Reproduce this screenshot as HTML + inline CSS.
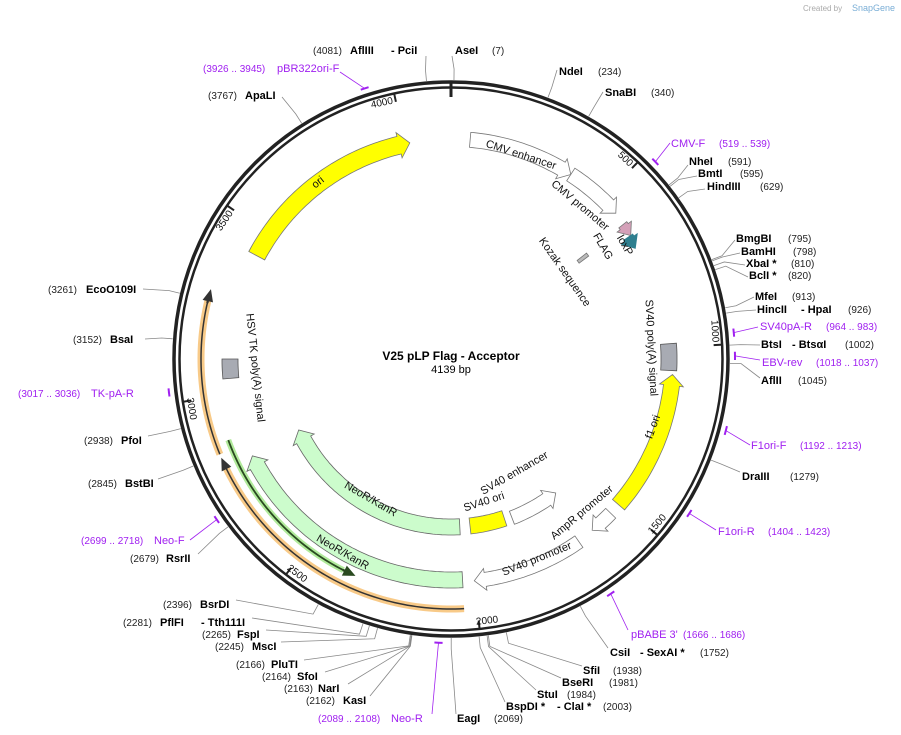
<!DOCTYPE html>
<html><head><meta charset="utf-8">
<style>
body{margin:0;background:#fff;}
svg{display:block;font-family:"Liberation Sans","DejaVu Sans",sans-serif;}
.e{font-size:11px;font-weight:bold;fill:#000;}
.n{font-size:10px;fill:#222;}
.p{font-size:11px;fill:#a020f0;}
.pn{font-size:10px;fill:#a020f0;}
.f{font-size:11px;fill:#111;}
.t{font-size:10px;fill:#111;}
</style></head>
<body>
<svg id="s" width="901" height="735" viewBox="0 0 901 735" xmlns="http://www.w3.org/2000/svg">
<g id="shapes"></g>
<text x="803" y="11" style="font-size:8px;fill:#aaa">Created by</text><text x="852" y="11" style="font-size:9px;fill:#7aaed6">SnapGene</text>
<text x="451" y="360" text-anchor="middle" style="font-size:12px;font-weight:bold">V25 pLP Flag - Acceptor</text>
<text x="451" y="373" text-anchor="middle" style="font-size:11px">4139 bp</text>

<!-- tick labels (positioned by script) -->
<text class="t tk" data-bp="500">500</text>
<text class="t tk" data-bp="1000">1000</text>
<text class="t tk" data-bp="1500">1500</text>
<text class="t tk" data-bp="2000">2000</text>
<text class="t tk" data-bp="2500">2500</text>
<text class="t tk" data-bp="3000">3000</text>
<text class="t tk" data-bp="3500">3500</text>
<text class="t tk" data-bp="4000">4000</text>

<!-- feature labels -->
<text class="f" text-anchor="middle" transform="translate(320,185) rotate(-38)">ori</text>
<text class="f" text-anchor="middle" transform="translate(520,158) rotate(18)">CMV enhancer</text>
<text class="f" text-anchor="middle" transform="translate(578,208) rotate(40)">CMV promoter</text>
<text class="f" text-anchor="middle" transform="translate(600,248) rotate(60)">FLAG</text>
<text class="f" text-anchor="middle" transform="translate(622,247) rotate(60)">loxP</text>
<text class="f" text-anchor="middle" transform="translate(562,274) rotate(55)">Kozak sequence</text>
<text class="f" text-anchor="middle" transform="translate(648,348) rotate(87)">SV40 poly(A) signal</text>
<text class="f" text-anchor="middle" transform="translate(656,428) rotate(-70)">f1 ori</text>
<text class="f" text-anchor="middle" transform="translate(584,515) rotate(-40)">AmpR promoter</text>
<text class="f" text-anchor="middle" transform="translate(538,562) rotate(-22)">SV40 promoter</text>
<text class="f" text-anchor="middle" transform="translate(516,476) rotate(-30)">SV40 enhancer</text>
<text class="f" text-anchor="middle" transform="translate(485,505) rotate(-18)">SV40 ori</text>
<text class="f" text-anchor="middle" transform="translate(369,502) rotate(30)">NeoR/KanR</text>
<text class="f" text-anchor="middle" transform="translate(341,555) rotate(30)">NeoR/KanR</text>
<text class="f" text-anchor="middle" transform="translate(252,368) rotate(84)">HSV TK poly(A) signal</text>

<!-- enzyme labels -->
<text class="n" x="313" y="54">(4081)</text><text class="e" x="350" y="54">AflIII</text><text class="e" x="391" y="54">- PciI</text>
<text class="e" x="455" y="54">AseI</text><text class="n" x="492" y="54">(7)</text>
<text class="e" x="559" y="75">NdeI</text><text class="n" x="598" y="75">(234)</text>
<text class="e" x="605" y="96">SnaBI</text><text class="n" x="651" y="96">(340)</text>
<text class="pn" x="203" y="72">(3926 .. 3945)</text><text class="p" x="277" y="72">pBR322ori-F</text>
<text class="n" x="208" y="99">(3767)</text><text class="e" x="245" y="99">ApaLI</text>
<text class="p" x="671" y="147">CMV-F</text><text class="pn" x="719" y="147">(519 .. 539)</text>
<text class="e" x="689" y="165">NheI</text><text class="n" x="728" y="165">(591)</text>
<text class="e" x="698" y="177">BmtI</text><text class="n" x="740" y="177">(595)</text>
<text class="e" x="707" y="190">HindIII</text><text class="n" x="760" y="190">(629)</text>
<text class="e" x="736" y="242">BmgBI</text><text class="n" x="788" y="242">(795)</text>
<text class="e" x="741" y="255">BamHI</text><text class="n" x="793" y="255">(798)</text>
<text class="e" x="746" y="267">XbaI *</text><text class="n" x="791" y="267">(810)</text>
<text class="e" x="749" y="279">BclI *</text><text class="n" x="788" y="279">(820)</text>
<text class="e" x="755" y="300">MfeI</text><text class="n" x="792" y="300">(913)</text>
<text class="e" x="757" y="313">HincII</text><text class="e" x="801" y="313">- HpaI</text><text class="n" x="848" y="313">(926)</text>
<text class="p" x="760" y="330">SV40pA-R</text><text class="pn" x="826" y="330">(964 .. 983)</text>
<text class="e" x="761" y="348">BtsI</text><text class="e" x="792" y="348">- BtsαI</text><text class="n" x="845" y="348">(1002)</text>
<text class="p" x="762" y="366">EBV-rev</text><text class="pn" x="816" y="366">(1018 .. 1037)</text>
<text class="e" x="761" y="384">AflII</text><text class="n" x="798" y="384">(1045)</text>
<text class="p" x="751" y="449">F1ori-F</text><text class="pn" x="800" y="449">(1192 .. 1213)</text>
<text class="e" x="742" y="480">DraIII</text><text class="n" x="790" y="480">(1279)</text>
<text class="p" x="718" y="535">F1ori-R</text><text class="pn" x="768" y="535">(1404 .. 1423)</text>
<text class="p" x="631" y="638">pBABE 3'</text><text class="pn" x="683" y="638">(1666 .. 1686)</text>
<text class="e" x="610" y="656">CsiI</text><text class="e" x="640" y="656">- SexAI *</text><text class="n" x="700" y="656">(1752)</text>
<text class="e" x="583" y="674">SfiI</text><text class="n" x="613" y="674">(1938)</text>
<text class="e" x="562" y="686">BseRI</text><text class="n" x="609" y="686">(1981)</text>
<text class="e" x="537" y="698">StuI</text><text class="n" x="567" y="698">(1984)</text>
<text class="e" x="506" y="710">BspDI *</text><text class="e" x="557" y="710">- ClaI *</text><text class="n" x="603" y="710">(2003)</text>
<text class="e" x="457" y="722">EagI</text><text class="n" x="494" y="722">(2069)</text>
<text class="pn" x="318" y="722">(2089 .. 2108)</text><text class="p" x="391" y="722">Neo-R</text>
<text class="n" x="306" y="704">(2162)</text><text class="e" x="343" y="704">KasI</text>
<text class="n" x="284" y="692">(2163)</text><text class="e" x="318" y="692">NarI</text>
<text class="n" x="262" y="680">(2164)</text><text class="e" x="297" y="680">SfoI</text>
<text class="n" x="236" y="668">(2166)</text><text class="e" x="271" y="668">PluTI</text>
<text class="n" x="215" y="650">(2245)</text><text class="e" x="252" y="650">MscI</text>
<text class="n" x="202" y="638">(2265)</text><text class="e" x="237" y="638">FspI</text>
<text class="n" x="123" y="626">(2281)</text><text class="e" x="160" y="626">PflFI</text><text class="e" x="201" y="626">- Tth111I</text>
<text class="n" x="163" y="608">(2396)</text><text class="e" x="200" y="608">BsrDI</text>
<text class="n" x="130" y="562">(2679)</text><text class="e" x="166" y="562">RsrII</text>
<text class="pn" x="81" y="544">(2699 .. 2718)</text><text class="p" x="154" y="544">Neo-F</text>
<text class="n" x="88" y="487">(2845)</text><text class="e" x="125" y="487">BstBI</text>
<text class="n" x="84" y="444">(2938)</text><text class="e" x="121" y="444">PfoI</text>
<text class="pn" x="18" y="397">(3017 .. 3036)</text><text class="p" x="91" y="397">TK-pA-R</text>
<text class="n" x="73" y="343">(3152)</text><text class="e" x="110" y="343">BsaI</text>
<text class="n" x="48" y="293">(3261)</text><text class="e" x="86" y="293">EcoO109I</text>
</svg>
<script>
var CX=451,CY=359,N=4139,NS="http://www.w3.org/2000/svg";
var G=document.getElementById("shapes");
function P(r,deg){var a=deg*Math.PI/180;return [CX+r*Math.sin(a),CY-r*Math.cos(a)];}
function B(bp){return bp/N*360;}
function el(t,at){var e=document.createElementNS(NS,t);for(var k in at)e.setAttribute(k,at[k]);G.appendChild(e);return e;}
function arcPts(r,a1,a2){var pts=[],n=Math.max(2,Math.ceil(Math.abs(a2-a1)));for(var i=0;i<=n;i++)pts.push(P(r,a1+(a2-a1)*i/n));return pts;}
function poly(pts){return "M"+pts.map(function(p){return p[0].toFixed(1)+","+p[1].toFixed(1)}).join("L")+"Z";}
function feat(r,w,a1,a2,dir,fill,stroke){
 var h=11/r*180/Math.PI, pts;
 if(dir==0){pts=arcPts(r+w/2,a1,a2).concat(arcPts(r-w/2,a2,a1));}
 else if(dir>0){var b=a2-h;pts=arcPts(r+w/2,a1,b);pts.push(P(r+w/2+4,b));pts.push(P(r,a2));pts.push(P(r-w/2-4,b));pts=pts.concat(arcPts(r-w/2,b,a1));}
 else {var b=a1+h;pts=[P(r,a1),P(r+w/2+4,b)].concat(arcPts(r+w/2,b,a2)).concat(arcPts(r-w/2,a2,b));pts.push(P(r-w/2-4,b));}
 el("path",{d:poly(pts),fill:fill,stroke:stroke||"#555","stroke-width":0.8});
}
function arcLine(r,a1,a2,col,w,op){var pts=arcPts(r,a1,a2);el("path",{d:"M"+pts.map(function(p){return p.join(",")}).join("L"),fill:"none",stroke:col,"stroke-width":w,"stroke-opacity":op||1,"stroke-linecap":"butt"});}
// ring
el("circle",{cx:CX,cy:CY,r:277,fill:"none",stroke:"#222","stroke-width":3.5});
el("circle",{cx:CX,cy:CY,r:271.5,fill:"none",stroke:"#222","stroke-width":2.5});
// ticks
for(var t=500;t<=4000;t+=500){var a=B(t),p1=P(263,a),p2=P(272,a);el("line",{x1:p1[0],y1:p1[1],x2:p2[0],y2:p2[1],stroke:"#222","stroke-width":2});}
var a0=P(262,0),a02=P(277,0);el("line",{x1:a0[0],y1:a0[1],x2:a02[0],y2:a02[1],stroke:"#222","stroke-width":3});
// tick labels
Array.prototype.forEach.call(document.querySelectorAll(".tk"),function(tx){
 var a=B(+tx.getAttribute("data-bp")),rot,r,anc,da;
 if(a>90&&a<270){rot=a-180;r=267;anc="start";da=0.6;}else{rot=a>180?a-360:a;r=262;anc="end";da=-0.6;}
 var p=P(r,a+da);tx.setAttribute("text-anchor",anc);
 tx.setAttribute("transform","translate("+p[0].toFixed(1)+","+p[1].toFixed(1)+") rotate("+rot.toFixed(1)+")");
});
// features
feat(220,18,-62,-10.8,1,"#ffff00","#777");
feat(220,15,5,33,1,"#fff","#777");
feat(220,15,33,48.5,1,"#fff","#777");
feat(218,10,52,55.5,1,"#d4a0b8","#777");
feat(215,11,55.5,59,1,"#2e7f8f","#2e7f8f");
feat(166,12,52,53.2,0,"#bbb","#777");
feat(218,16,86,93,0,"#a8abb3","#555");
feat(222,16,94,131,-1,"#ffff00","#777");
feat(222,14,134,140.5,1,"#fff","#777");
feat(223,14,145,174,1,"#fff","#777");
feat(170,14,142,159,-1,"#fff","#777");
feat(168,16,161.5,173.5,0,"#ffff00","#777");
feat(221,16,177,244,1,"#ccfccc","#666");
feat(168,16,177,245,1,"#ccfccc","#666");
feat(221,16,265,270,0,"#a8abb3","#555");
// orange / green arcs
arcLine(250,247.6,284,"#f5b860",7,0.75);arcLine(250,247.6,283,"#333",1.5);
feat(250,1.5,283,286,1,"#333","#333");
arcLine(250,177,244,"#f5b860",7,0.75);arcLine(250,177,244,"#333",1.5);
feat(250,1.5,244,246.5,1,"#333","#333");
arcLine(237,207,250,"#a8e890",6,0.9);arcLine(237,207,250,"#2a4a20",1.8);
feat(237,1.8,204,207,-1,"#2a4a20","#2a4a20");
// leader lines
var L=[[4081,426,56],[7,452,56],[234,557,70],[340,603,92],[3767,282,97],[591,688,165],[595,697,176],[629,705,189],
[795,735,240],[798,740,253],[810,745,265],[820,748,277],[913,754,297],[926,756,310],[1002,760,345],[1045,760,378],
[1279,740,472],[1752,608,648],[1938,582,666],[1981,561,678],[1984,536,690],[2003,505,702],[2069,456,714],
[2162,370,696],[2163,348,684],[2164,325,672],[2166,304,660],[2245,281,642],[2265,266,630],[2281,252,618],[2396,236,600],
[2679,198,554],[2845,158,479],[2938,148,436],[3152,145,339],[3261,143,289]];
L.forEach(function(l){var a=B(l[0]),p=P(279,a),q=P(290,a);el("path",{d:"M"+p.join(",")+"L"+q.join(",")+"L"+l[1]+","+l[2],fill:"none",stroke:"#888","stroke-width":0.8});});
var PR=[[3926,3945,340,72],[519,539,670,143],[964,983,758,327],[1018,1037,760,360],[1192,1213,750,445],[1404,1423,716,530],[1666,1686,628,630],[2089,2108,432,714],[2699,2718,190,540],[3017,3036,168,393]];
PR.forEach(function(l){var a1=B(l[0]),a2=B(l[1]);arcLine(284,a1,a2,"#a020f0",2);var m=P(284,(a1+a2)/2);el("line",{x1:m[0],y1:m[1],x2:l[2],y2:l[3],stroke:"#a020f0","stroke-width":0.8});});
</script>
</body></html>
